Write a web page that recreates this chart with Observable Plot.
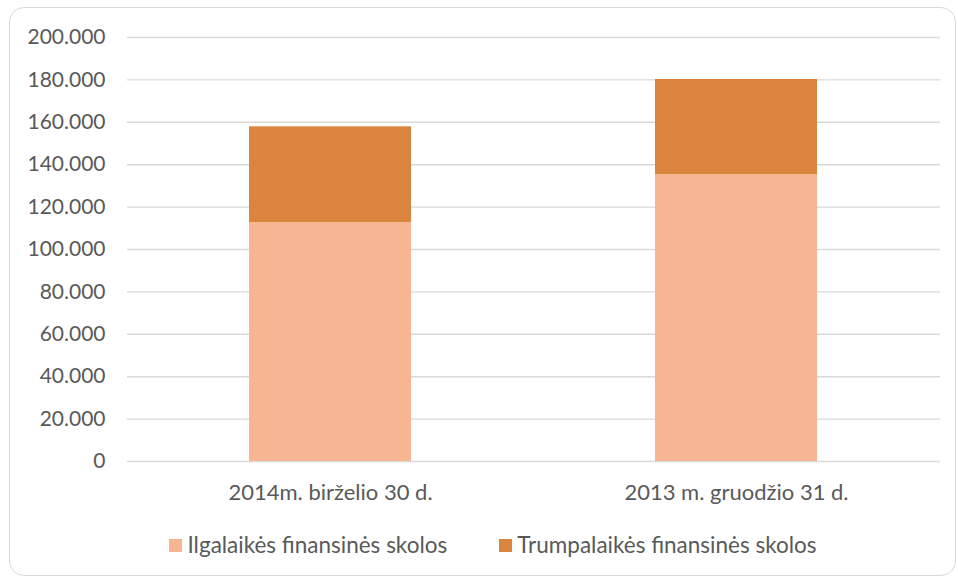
<!DOCTYPE html>
<html>
<head>
<meta charset="utf-8">
<script src="https://cdn.jsdelivr.net/npm/d3@7"></script>
<script src="https://cdn.jsdelivr.net/npm/@observablehq/plot@0.6"></script>
<style>
  html, body { margin: 0; padding: 0; background: #fff; }
  #wrap { position: relative; width: 958px; height: 578px; overflow: hidden; font-family: Lato, "Open Sans", sans-serif; color: #595959; }
  #frame { position: absolute; left: 9px; top: 7px; width: 947px; height: 569px; box-sizing: border-box; border: 1.5px solid #d9d9d9; border-radius: 15px; }
  #chart { position: absolute; left: 0; top: 0; }
  #legend { position: absolute; left: 0; top: 532px; width: 986px; display: flex; justify-content: center; gap: 52px; font-size: 22.5px; line-height: 26px; }
  .item { display: flex; align-items: center; }
  .sw { width: 13px; height: 13px; margin-right: 5px; }
</style>
</head>
<body>
<div id="wrap">
  <div id="frame"></div>
  <div id="chart"></div>
  <div id="legend"></div>
</div>
<script>
const categories = ["2014m. birželio 30 d.", "2013 m. gruodžio 31 d."];
const seriesNames = ["Ilgalaikės finansinės skolos", "Trumpalaikės finansinės skolos"];
const ilgalaikes = [112700, 135300];
const trumpalaikes = [45150, 44900];
const yTicks = [0, 20000, 40000, 60000, 80000, 100000, 120000, 140000, 160000, 180000, 200000];
const colors = ["#F8B591", "#DB843D"];

const rows = [];
categories.forEach((c, i) => {
  rows.push({category: c, series: seriesNames[0], value: ilgalaikes[i]});
  rows.push({category: c, series: seriesNames[1], value: trumpalaikes[i]});
});

const lt = d3.formatLocale({decimal: ",", thousands: ".", grouping: [3], currency: ["", " €"]});
const fmt = lt.format(",d");

const chart = Plot.plot({
  width: 958,
  height: 520,
  marginTop: 37,
  marginBottom: 59,
  marginLeft: 127,
  marginRight: 18,
  style: {fontFamily: "Lato, 'Open Sans', sans-serif", fontSize: "22px", color: "#595959", background: "transparent"},
  x: {domain: categories, paddingInner: 0.6, paddingOuter: 0.3, label: null},
  y: {domain: [0, 200000], label: null},
  color: {domain: seriesNames, range: colors},
  marks: [
    Plot.gridY(yTicks, {stroke: "#d9d9d9", strokeOpacity: 1, strokeWidth: 1.4}),
    Plot.barY(rows, Plot.stackY({x: "category", y: "value", fill: "series", order: seriesNames})),
    Plot.axisY(yTicks, {tickSize: 0, tickPadding: 22, tickFormat: fmt, fontSize: 21, fill: "#595959"}),
    Plot.axisX({tickSize: 0, tickPadding: 23, fill: "#595959"})
  ]
});
document.getElementById("chart").appendChild(chart);

const legend = document.getElementById("legend");
seriesNames.forEach((s, i) => {
  const it = document.createElement("div");
  it.className = "item";
  const sw = document.createElement("div");
  sw.className = "sw";
  sw.style.background = colors[i];
  const tx = document.createElement("span");
  tx.textContent = s;
  it.appendChild(sw);
  it.appendChild(tx);
  legend.appendChild(it);
});
</script>
</body>
</html>
